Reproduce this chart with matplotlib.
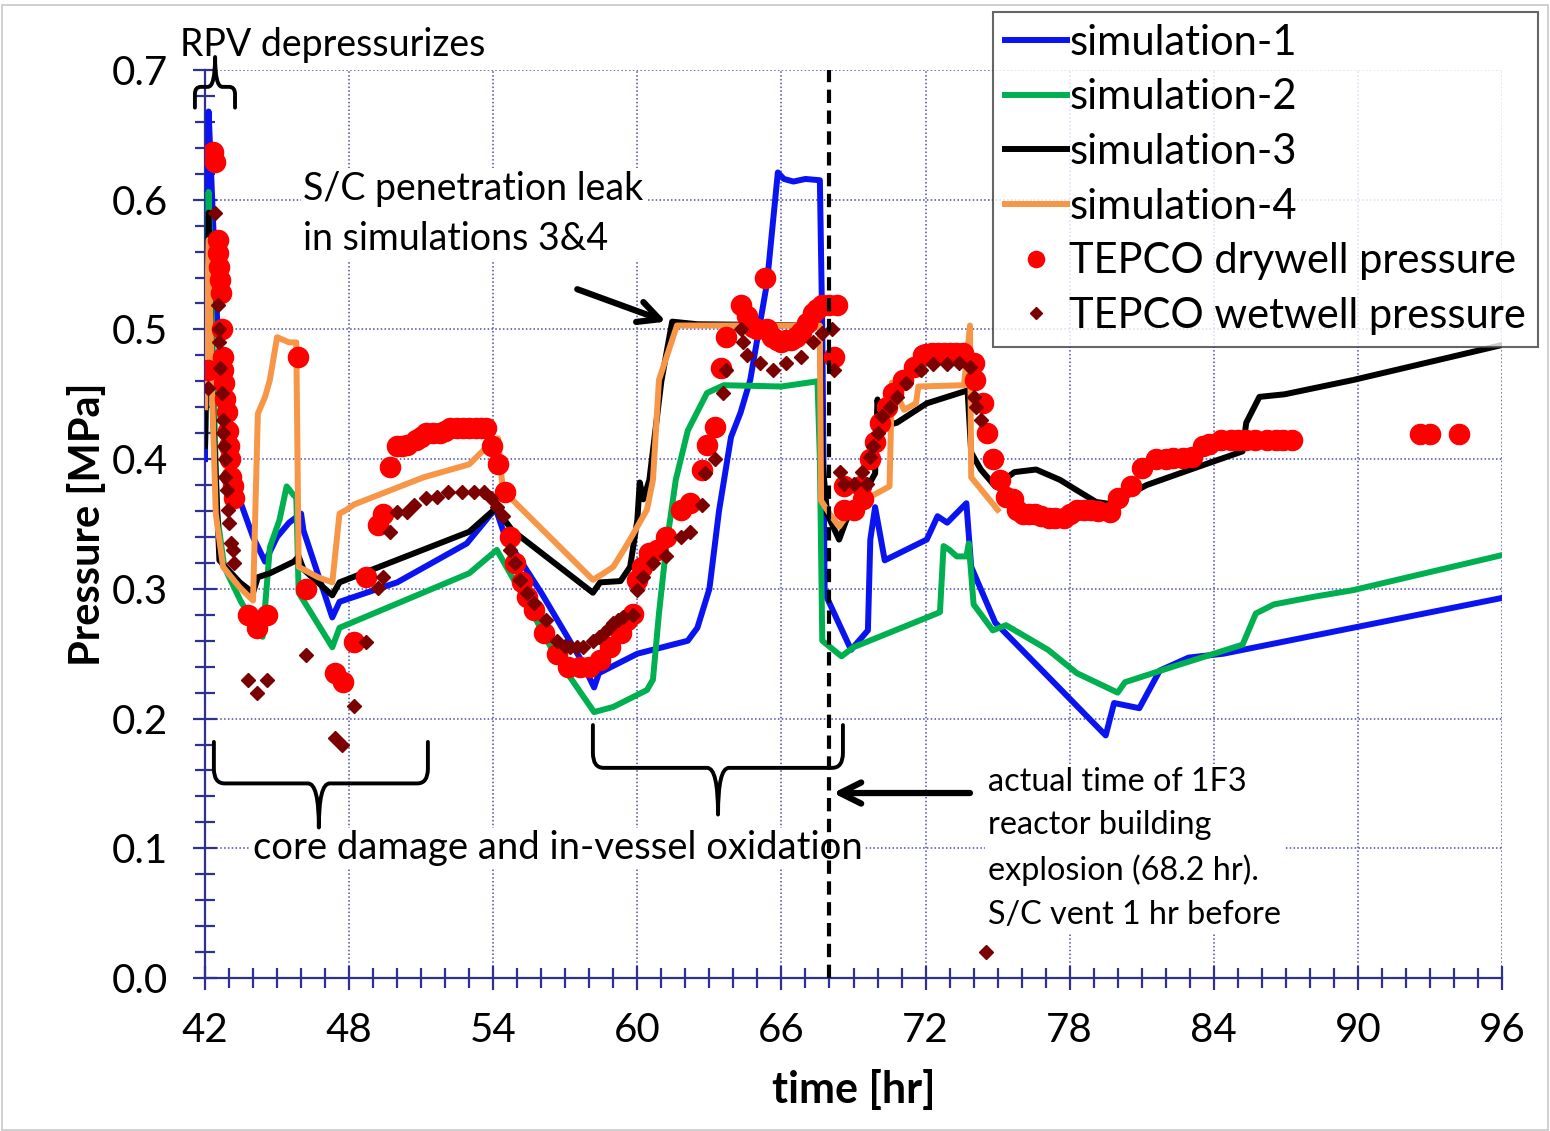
import matplotlib
matplotlib.use('Agg')
import matplotlib.pyplot as plt
from matplotlib.path import Path
from matplotlib.patches import PathPatch, Rectangle
from matplotlib.ticker import MultipleLocator, FormatStrFormatter

plt.rcParams['font.family'] = ['Lato', 'DejaVu Sans']

# ---- data (time [hr], pressure [MPa]) ----
sim1_t = [42.0, 42.15, 42.3, 42.5, 42.8, 43.3, 44.0, 44.5, 45.0, 45.5, 46.0, 46.1, 47.3, 47.6,
          50.0, 52.9, 54.1, 54.5, 56.0, 57.6, 58.2, 58.4, 60.0, 62.1, 62.5, 63.0, 63.4, 63.9,
          64.3, 64.7, 65.4, 65.6, 65.85, 66.1, 66.5, 67.0, 67.6, 67.7, 67.8, 68.9, 69.6, 69.7,
          69.9, 70.3, 72.05, 72.5, 72.9, 73.7, 73.9, 74.9, 79.5, 79.85, 80.9, 81.75, 82.95,
          84.4, 96.0]
sim1_p = [0.40, 0.668, 0.60, 0.51, 0.44, 0.376, 0.34, 0.321, 0.34, 0.351, 0.358, 0.345, 0.278, 0.29,
          0.305, 0.335, 0.362, 0.34, 0.297, 0.247, 0.224, 0.235, 0.25, 0.26, 0.27, 0.30, 0.36, 0.417,
          0.436, 0.461, 0.536, 0.574, 0.621, 0.616, 0.614, 0.616, 0.615, 0.50, 0.297, 0.253, 0.268, 0.338,
          0.363, 0.322, 0.338, 0.356, 0.351, 0.366, 0.317, 0.274, 0.187, 0.212, 0.208, 0.237, 0.247,
          0.25, 0.293]

sim2_t = [42.0, 42.15, 42.3, 42.5, 42.8, 43.5, 44.4, 44.7, 45.1, 45.4, 45.7, 45.8, 45.9, 47.3,
          47.6, 53.0, 54.15, 55.5, 56.6, 58.2, 59.0, 60.4, 60.65, 60.9, 61.2, 61.6, 62.1, 62.9,
          63.6, 66.0, 67.5, 67.6, 67.7, 68.5, 69.0, 72.6, 72.75, 73.0, 73.3, 73.7, 73.8, 74.0,
          74.8, 75.35, 77.1, 78.3, 80.0, 80.3, 82.3, 85.2, 85.75, 86.5, 88.2, 89.8, 96.0]
sim2_p = [0.41, 0.606, 0.50, 0.358, 0.317, 0.29, 0.263, 0.332, 0.353, 0.379, 0.372, 0.372, 0.297, 0.255,
          0.27, 0.312, 0.33, 0.286, 0.248, 0.205, 0.209, 0.222, 0.23, 0.281, 0.332, 0.384, 0.422, 0.451,
          0.457, 0.456, 0.46, 0.40, 0.26, 0.248, 0.255, 0.282, 0.333, 0.33, 0.325, 0.325, 0.335, 0.288,
          0.268, 0.272, 0.253, 0.235, 0.22, 0.228, 0.24, 0.257, 0.281, 0.288, 0.294, 0.299, 0.326]

sim3_t = [42.0, 42.15, 42.3, 42.6, 43.45, 44.0, 44.2, 44.7, 45.7, 45.9, 46.1, 47.3, 47.6, 53.0,
          54.1, 54.8, 58.15, 58.45, 59.3, 59.7, 60.0, 60.1, 60.25, 60.5, 61.0, 61.45, 62.5, 67.6,
          67.7, 67.9, 68.4, 68.7, 69.6, 69.9, 70.0, 70.1, 70.8, 72.05, 73.75, 73.9, 74.3, 74.9,
          75.7, 76.6, 77.6, 78.3, 79.1, 79.85, 80.3, 81.2, 83.8, 85.2, 85.35, 85.9, 86.95, 89.8, 96.0]
sim3_p = [0.41, 0.59, 0.45, 0.322, 0.305, 0.297, 0.309, 0.312, 0.321, 0.325, 0.315, 0.295, 0.305, 0.344,
          0.362, 0.345, 0.297, 0.305, 0.306, 0.317, 0.353, 0.382, 0.369, 0.384, 0.46, 0.506, 0.504, 0.503,
          0.40, 0.358, 0.338, 0.353, 0.379, 0.389, 0.446, 0.425, 0.428, 0.443, 0.453, 0.405, 0.392, 0.379,
          0.39, 0.392, 0.384, 0.376, 0.367, 0.365, 0.371, 0.38, 0.397, 0.406, 0.428, 0.448, 0.45, 0.461, 0.488]

sim4_t = [42.0, 42.15, 42.3, 42.45, 42.75, 43.45, 44.0, 44.05, 44.2, 44.5, 44.7, 45.0, 45.5, 45.8,
          45.9, 46.7, 47.3, 47.6, 47.9, 48.2, 51.1, 53.0, 53.6, 54.2, 54.4, 58.15, 58.6, 59.0,
          59.6, 60.4, 60.65, 60.9, 61.65, 67.6, 67.65, 68.0, 68.4, 68.7, 69.7, 70.5, 70.6, 71.1,
          71.6, 71.7, 73.6, 73.85, 73.9, 75.0]
sim4_p = [0.44, 0.569, 0.45, 0.358, 0.317, 0.301, 0.291, 0.327, 0.435, 0.448, 0.461, 0.494, 0.49, 0.49,
          0.317, 0.309, 0.305, 0.358, 0.361, 0.365, 0.386, 0.396, 0.407, 0.416, 0.376, 0.307, 0.312, 0.317,
          0.335, 0.361, 0.384, 0.461, 0.503, 0.503, 0.368, 0.358, 0.348, 0.356, 0.371, 0.379, 0.459, 0.438,
          0.443, 0.456, 0.457, 0.503, 0.386, 0.361]

dw_t = [42.13, 42.33, 42.42, 42.54, 42.56, 42.58, 42.62, 42.65, 42.7, 42.75, 42.76, 42.8, 42.85, 42.9,
        42.95, 43.0, 43.05, 43.1, 43.15, 43.2, 43.8, 44.15, 44.6, 45.87, 46.2, 47.4, 47.75, 48.2,
        48.7, 49.2, 49.4, 49.7, 50.0, 50.2, 50.4, 50.8, 51.0, 51.2, 51.5, 51.8, 52.0, 52.2, 52.5,
        52.75, 53.0, 53.3, 53.5, 53.7, 53.95, 54.2, 54.5, 54.7, 54.9, 55.2, 55.4, 55.7, 56.1,
        56.65, 57.1, 57.6, 58.0, 58.45, 58.85, 59.3, 59.55, 59.8, 60.0, 60.2, 60.5, 60.8, 61.2,
        61.8, 62.2, 62.7, 62.9, 63.25, 63.5, 63.7, 64.3, 64.55, 64.8, 65.0, 65.3, 65.4, 65.6,
        65.8, 66.0, 66.2, 66.4, 66.6, 66.8, 67.05, 67.3, 67.5, 67.7, 68.0, 68.3, 68.2, 68.6,
        69.3, 68.6, 69.0, 69.4, 69.7, 69.9, 70.1, 70.4, 70.65, 71.05, 71.5, 71.9, 72.0, 72.25,
        72.5, 72.75, 73.0, 73.25, 73.55, 74.0, 74.05, 74.4, 74.55, 74.8, 75.1, 75.35, 75.65,
        75.8, 76.05, 76.3, 76.55, 76.8, 77.15, 77.4, 77.75, 78.0, 78.3, 78.6, 78.9, 79.2, 79.7,
        80.0, 80.55, 81.0, 81.6, 82.0, 82.3, 82.7, 83.1, 83.55, 83.8, 84.3, 84.7, 85.0, 85.35,
        85.7, 86.2, 86.6, 86.9, 87.25, 92.6, 93.0, 94.2]
dw_p = [0.469, 0.637, 0.629, 0.569, 0.559, 0.548, 0.538, 0.528, 0.50, 0.479, 0.469, 0.459, 0.446, 0.436,
        0.422, 0.41, 0.40, 0.386, 0.379, 0.37, 0.28, 0.27, 0.28, 0.479, 0.30, 0.235, 0.228, 0.259,
        0.309, 0.349, 0.358, 0.394, 0.41, 0.41, 0.411, 0.415, 0.417, 0.42, 0.42, 0.42, 0.422, 0.424, 0.424,
        0.424, 0.424, 0.424, 0.424, 0.424, 0.41, 0.396, 0.375, 0.34, 0.32, 0.305, 0.294, 0.284, 0.266,
        0.25, 0.24, 0.24, 0.24, 0.245, 0.255, 0.266, 0.276, 0.281, 0.307, 0.317, 0.328, 0.33, 0.34,
        0.361, 0.366, 0.392, 0.411, 0.425, 0.47, 0.494, 0.519, 0.51, 0.502, 0.50, 0.54, 0.50, 0.494,
        0.492, 0.49, 0.492, 0.492, 0.494, 0.498, 0.505, 0.513, 0.516, 0.519, 0.519, 0.519, 0.479, 0.379,
        0.379, 0.361, 0.361, 0.369, 0.40, 0.413, 0.428, 0.44, 0.451, 0.461, 0.471, 0.48, 0.481, 0.482,
        0.482, 0.482, 0.482, 0.482, 0.482, 0.474, 0.461, 0.443, 0.42, 0.40, 0.384, 0.371, 0.369,
        0.361, 0.358, 0.358, 0.358, 0.356, 0.355, 0.355, 0.355, 0.358, 0.361, 0.361, 0.361, 0.36, 0.359,
        0.37, 0.379, 0.393, 0.40, 0.40, 0.401, 0.401, 0.402, 0.41, 0.412, 0.415, 0.415, 0.415, 0.415,
        0.415, 0.415, 0.415, 0.415, 0.415, 0.419, 0.419, 0.419]

ww_t = [42.13, 42.42, 42.55, 42.57, 42.6, 42.62, 42.7, 42.75, 42.76, 42.8, 42.82, 42.85, 42.9, 42.95,
        43.0, 43.1, 43.15, 43.2, 43.8, 44.15, 44.6, 46.2, 47.4, 47.7, 48.2, 48.7, 49.2, 49.4,
        49.7, 50.0, 50.4, 50.7, 51.2, 51.65, 52.1, 52.7, 53.2, 53.6, 53.9, 54.15, 54.4, 54.7,
        54.9, 55.1, 55.4, 55.7, 56.2, 56.65, 57.0, 57.2, 57.5, 57.75, 58.15, 58.4, 58.6, 58.8,
        59.0, 59.2, 59.4, 59.8, 60.0, 60.25, 60.65, 61.2, 61.8, 62.2, 62.7, 62.8, 63.25, 63.55,
        63.7, 64.3, 64.4, 64.55, 65.1, 65.65, 66.2, 66.8, 67.3, 67.7, 68.1, 68.2, 68.45, 68.6,
        69.0, 69.35, 69.55, 69.7, 69.8, 70.0, 70.2, 70.5, 70.8, 71.2, 71.8, 72.3, 72.9, 73.4,
        73.85, 74.0, 74.1, 74.3, 74.5]
ww_p = [0.455, 0.59, 0.519, 0.50, 0.49, 0.47, 0.451, 0.43, 0.42, 0.41, 0.40, 0.386, 0.376, 0.361,
        0.351, 0.335, 0.33, 0.32, 0.23, 0.22, 0.23, 0.249, 0.185, 0.18, 0.21, 0.259, 0.301, 0.309,
        0.344, 0.359, 0.359, 0.365, 0.37, 0.371, 0.375, 0.375, 0.375, 0.375, 0.37, 0.363, 0.356, 0.33,
        0.32, 0.307, 0.297, 0.289, 0.276, 0.26, 0.256, 0.255, 0.255, 0.255, 0.26, 0.263, 0.266, 0.27,
        0.274, 0.276, 0.278, 0.28, 0.299, 0.309, 0.32, 0.325, 0.34, 0.344, 0.365, 0.389, 0.40, 0.451,
        0.469, 0.50, 0.49, 0.48, 0.474, 0.469, 0.474, 0.479, 0.49, 0.497, 0.50, 0.469, 0.39, 0.381,
        0.381, 0.39, 0.381, 0.402, 0.41, 0.42, 0.433, 0.44, 0.448, 0.459, 0.469, 0.473, 0.473, 0.474,
        0.471, 0.448, 0.44, 0.43, 0.02]

x_ticks = [42, 48, 54, 60, 66, 72, 78, 84, 90, 96]
explosion_t = 68.0

NAVY = '#2e3192'


def brace(ax, x0, x1, xm, y_end, y_body, y_tip, r, rm):
    # curly brace drawn in data units
    dy = (y_body - y_end) * 0.35
    verts = [(x0, y_end), (x0, y_body - dy), (x0, y_body), (x0 + r, y_body),
             (xm - rm, y_body), (xm, y_body), (xm, y_tip),
             (xm, y_body), (xm + rm, y_body),
             (x1 - r, y_body), (x1, y_body), (x1, y_body - dy), (x1, y_end)]
    codes = [Path.MOVETO, Path.LINETO, Path.CURVE3, Path.CURVE3,
             Path.LINETO, Path.CURVE3, Path.CURVE3,
             Path.CURVE3, Path.CURVE3,
             Path.LINETO, Path.CURVE3, Path.CURVE3, Path.LINETO]
    ax.add_patch(PathPatch(Path(verts, codes), fill=False, lw=2.8, color='black',
                           clip_on=False, zorder=6, capstyle='round', joinstyle='round'))


fig = plt.figure(figsize=(15.5, 11.31), dpi=100)
ax = fig.add_axes([205 / 1550, 1 - 978 / 1131, (1502 - 205) / 1550, (978 - 70) / 1131])

LW = 4.3
ax.plot(sim1_t, sim1_p, color='#0a14f0', lw=LW, label='simulation-1', zorder=3)
ax.plot(sim2_t, sim2_p, color='#00b050', lw=LW, label='simulation-2', zorder=3)
ax.plot(sim3_t, sim3_p, color='black', lw=LW, label='simulation-3', zorder=3)
ax.plot(sim4_t, sim4_p, color='#f79646', lw=LW, label='simulation-4', zorder=3)
ax.plot(dw_t, dw_p, ls='none', marker='o', ms=14.5, color='#ff0000', mec='#ff0000',
        label='TEPCO drywell pressure', zorder=4)
ax.plot(ww_t, ww_p, ls='none', marker='D', ms=7.5, color='#7b0000', mec='#7b0000',
        label='TEPCO wetwell pressure', zorder=5)

ax.axvline(explosion_t, color='black', lw=3, ls=(0, (3.2, 1.8)), zorder=5)

ax.set_xlim(42, 96)
ax.set_ylim(0, 0.7)
ax.set_xticks(x_ticks)
ax.xaxis.set_minor_locator(MultipleLocator(1))
ax.yaxis.set_major_locator(MultipleLocator(0.1))
ax.yaxis.set_minor_locator(MultipleLocator(0.02))
ax.yaxis.set_major_formatter(FormatStrFormatter('%.1f'))
ax.grid(True, which='major', color='#4b4bb0', lw=1.1, ls=(0, (1, 1.5)))
ax.set_axisbelow(True)

for s in ['top', 'right']:
    ax.spines[s].set_visible(False)
for s in ['left', 'bottom']:
    ax.spines[s].set_color(NAVY)
    ax.spines[s].set_linewidth(1.6)

ax.tick_params(which='major', direction='inout', length=17, width=1.6, color=NAVY,
               labelsize=29)
ax.tick_params(which='minor', direction='inout', length=15, width=1.6, color=NAVY)
ax.tick_params(axis='y', which='major', pad=18)
ax.tick_params(axis='x', which='major', pad=16)

ax.set_xlabel('time [hr]', fontsize=31, fontweight='bold', va='center')
ax.xaxis.set_label_coords(0.5, -(1090 - 978) / 908)
ax.set_ylabel('Pressure [MPa]', fontsize=30, fontweight='bold', va='center')
ax.yaxis.set_label_coords(-(205 - 87) / 1297, 0.5)

leg = ax.legend(loc='upper right', bbox_to_anchor=(1538 / 1550, 1 - 12 / 1131),
                bbox_transform=fig.transFigure, fontsize=30, frameon=True, fancybox=False,
                borderaxespad=0, borderpad=0.28, handlelength=1.5, handletextpad=0.05,
                labelspacing=0.4, markerscale=0.8)
leg.get_frame().set_edgecolor('#404040')
leg.get_frame().set_linewidth(1.5)
leg.set_zorder(10)

white = dict(facecolor='white', edgecolor='none', pad=2)

# annotations
ax.text(40.96, 0.719, 'RPV depressurizes', fontsize=27, va='center', ha='left',
        clip_on=False, zorder=7)
brace(ax, 41.58, 43.25, 42.42, 0.671, 0.687, 0.710, 0.25, 0.3)

ax.text(46.1, 0.589, 'S/C penetration leak\nin simulations 3&4', fontsize=27, va='center',
        ha='left', linespacing=1.5, bbox=white, zorder=2)
ax.annotate('', xy=(61.2, 0.506), xytext=(57.5, 0.531),
            arrowprops=dict(arrowstyle='->', lw=4.5, color='black', mutation_scale=38,
                            shrinkA=0, shrinkB=0), zorder=7)

brace(ax, 42.37, 51.28, 46.74, 0.182, 0.150, 0.116, 0.45, 0.45)
brace(ax, 58.15, 68.56, 63.36, 0.195, 0.162, 0.126, 0.45, 0.45)
ax.text(44.0, 0.100, 'core damage and in-vessel oxidation', fontsize=27.5, va='center',
        ha='left', bbox=white, zorder=2)

ax.annotate('', xy=(68.15, 0.1426), xytext=(73.85, 0.1426),
            arrowprops=dict(arrowstyle='->', lw=4.5, color='black', mutation_scale=38,
                            shrinkA=0, shrinkB=0), zorder=7)
ax.text(74.6, 0.1, 'actual time of 1F3\nreactor building\nexplosion (68.2 hr).\nS/C vent 1 hr before',
        fontsize=23.3, va='center', ha='left', linespacing=1.56, bbox=white, zorder=2)

fig.patches.append(Rectangle((0.001, 0.001), 0.998, 0.995, transform=fig.transFigure,
                             fill=False, edgecolor='#c8c8c8', lw=1.2))

fig.savefig('out.png', dpi=100)
